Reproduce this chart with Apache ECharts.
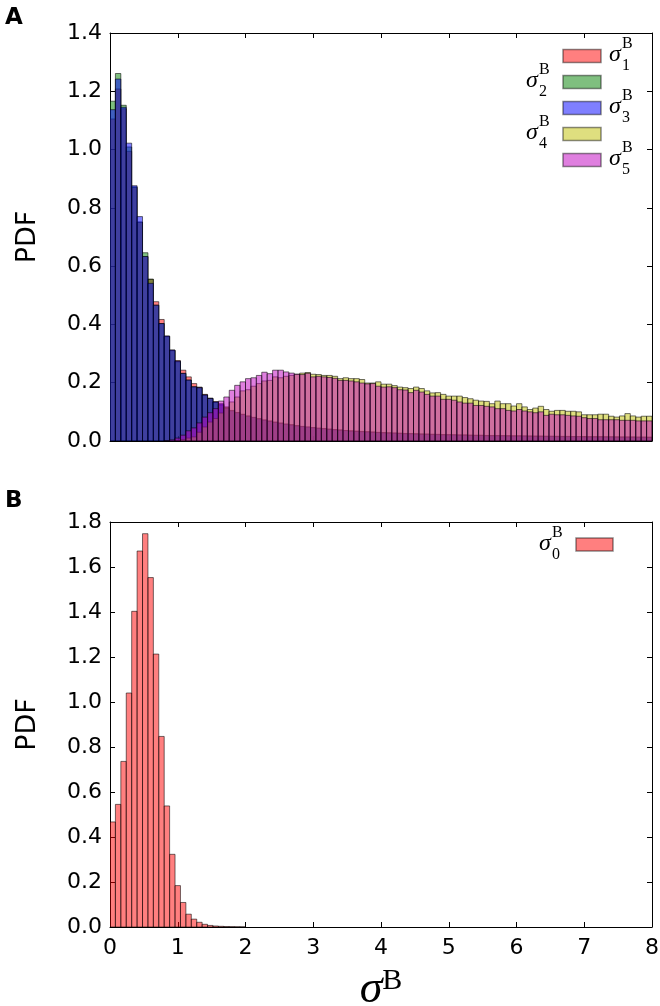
<!DOCTYPE html>
<html>
<head>
<meta charset="utf-8">
<script src="https://cdn.jsdelivr.net/npm/echarts@6/dist/echarts.min.js"></script>
<style>
html,body{margin:0;padding:0;background:#fff;}
#chart{width:660px;height:1006px;}
</style>
</head>
<body>
<div id="chart"></div>
<script>
// ---- data ----
const BIN_WIDTH = 0.08;           // histogram bin width (sigma^B units)
const X_TICKS = [0, 1, 2, 3, 4, 5, 6, 7, 8];

// Panel A: PDFs of sigma_1..sigma_5 (one value per bin, bins start at 0)
const sigmaA1 = [
  1.105, 1.208, 1.140, 0.994, 0.870, 0.751, 0.633, 0.555, 0.478, 0.417,
  0.360, 0.312, 0.276, 0.243, 0.220, 0.197, 0.185, 0.160, 0.147, 0.135,
  0.126, 0.114, 0.105, 0.098, 0.092, 0.086, 0.081, 0.077, 0.072, 0.069,
  0.065, 0.062, 0.058, 0.056, 0.053, 0.050, 0.048, 0.046, 0.044, 0.043,
  0.041, 0.039, 0.038, 0.036, 0.035, 0.034, 0.033, 0.032, 0.031, 0.030,
  0.029, 0.028, 0.027, 0.027, 0.026, 0.025, 0.025, 0.024, 0.024, 0.023,
  0.023, 0.022, 0.022, 0.021, 0.021, 0.021, 0.020, 0.020, 0.020, 0.019,
  0.019, 0.019, 0.018, 0.018, 0.018, 0.018, 0.017, 0.017, 0.017, 0.017,
  0.016, 0.016, 0.016, 0.016, 0.016, 0.015, 0.015, 0.015, 0.015, 0.015,
  0.015, 0.014, 0.014, 0.014, 0.014, 0.014, 0.014, 0.013, 0.013, 0.013
];
const sigmaA2 = [
  1.166, 1.261, 1.152, 1.009, 0.872, 0.751, 0.646, 0.555, 0.466, 0.403,
  0.358, 0.310, 0.272, 0.232, 0.209, 0.186, 0.183, 0.158, 0.146, 0.133,
  0.123, 0.112, 0.103, 0.097, 0.090, 0.085, 0.080, 0.075, 0.071, 0.067,
  0.064, 0.060, 0.057, 0.055, 0.052, 0.049, 0.047, 0.045, 0.043, 0.042,
  0.040, 0.038, 0.037, 0.035, 0.034, 0.033, 0.032, 0.031, 0.030, 0.029,
  0.028, 0.028, 0.027, 0.026, 0.025, 0.025, 0.024, 0.024, 0.023, 0.023,
  0.022, 0.022, 0.021, 0.021, 0.020, 0.020, 0.020, 0.019, 0.019, 0.019,
  0.018, 0.018, 0.018, 0.018, 0.017, 0.017, 0.017, 0.017, 0.016, 0.016,
  0.016, 0.016, 0.016, 0.015, 0.015, 0.015, 0.015, 0.015, 0.014, 0.014,
  0.014, 0.014, 0.014, 0.014, 0.013, 0.013, 0.013, 0.013, 0.013, 0.013
];
const sigmaA3 = [
  1.137, 1.242, 1.145, 1.022, 0.876, 0.770, 0.633, 0.541, 0.466, 0.403,
  0.360, 0.312, 0.274, 0.232, 0.209, 0.186, 0.183, 0.158, 0.146, 0.134,
  0.128, 0.113, 0.104, 0.097, 0.091, 0.085, 0.081, 0.076, 0.072, 0.068,
  0.064, 0.061, 0.058, 0.055, 0.052, 0.050, 0.048, 0.046, 0.044, 0.042,
  0.040, 0.039, 0.037, 0.036, 0.034, 0.033, 0.032, 0.031, 0.030, 0.029,
  0.028, 0.027, 0.027, 0.026, 0.025, 0.025, 0.024, 0.023, 0.023, 0.022,
  0.022, 0.021, 0.021, 0.021, 0.020, 0.020, 0.019, 0.019, 0.019, 0.018,
  0.018, 0.018, 0.018, 0.017, 0.017, 0.017, 0.017, 0.016, 0.016, 0.016,
  0.016, 0.016, 0.015, 0.015, 0.015, 0.015, 0.015, 0.014, 0.014, 0.014,
  0.014, 0.014, 0.014, 0.013, 0.013, 0.013, 0.013, 0.013, 0.013, 0.012
];
const sigmaA4 = [
  0, 0, 0, 0, 0, 0, 0, 0, 0, 0,
  0, 0, 0.002, 0.005, 0.010, 0.014, 0.030, 0.048, 0.065, 0.077,
  0.096, 0.117, 0.134, 0.151, 0.172, 0.176, 0.188, 0.197, 0.206, 0.208,
  0.220, 0.217, 0.222, 0.225, 0.229, 0.233, 0.235, 0.229, 0.228, 0.225,
  0.225, 0.222, 0.214, 0.217, 0.214, 0.214, 0.211, 0.199, 0.199, 0.203,
  0.195, 0.195, 0.190, 0.185, 0.183, 0.180, 0.185, 0.180, 0.172, 0.165,
  0.166, 0.160, 0.154, 0.154, 0.154, 0.149, 0.145, 0.140, 0.137, 0.136,
  0.128, 0.137, 0.128, 0.128, 0.120, 0.128, 0.117, 0.108, 0.113, 0.119,
  0.108, 0.102, 0.105, 0.105, 0.102, 0.102, 0.100, 0.090, 0.090, 0.090,
  0.092, 0.092, 0.085, 0.082, 0.086, 0.094, 0.086, 0.082, 0.085, 0.085
];
const sigmaA5 = [
  0, 0, 0, 0, 0, 0, 0, 0, 0, 0,
  0.001, 0.004, 0.010, 0.020, 0.035, 0.045, 0.062, 0.082, 0.097, 0.111,
  0.137, 0.151, 0.174, 0.191, 0.203, 0.214, 0.217, 0.225, 0.236, 0.231,
  0.243, 0.243, 0.237, 0.233, 0.229, 0.228, 0.232, 0.220, 0.222, 0.220,
  0.218, 0.215, 0.208, 0.208, 0.206, 0.203, 0.199, 0.196, 0.197, 0.188,
  0.185, 0.186, 0.183, 0.176, 0.175, 0.166, 0.174, 0.168, 0.160, 0.154,
  0.154, 0.143, 0.143, 0.140, 0.134, 0.130, 0.130, 0.122, 0.122, 0.119,
  0.117, 0.111, 0.111, 0.105, 0.103, 0.108, 0.103, 0.100, 0.097, 0.100,
  0.088, 0.092, 0.090, 0.090, 0.088, 0.086, 0.085, 0.080, 0.077, 0.077,
  0.073, 0.073, 0.073, 0.073, 0.071, 0.071, 0.071, 0.069, 0.069, 0.069
];

// Panel B: PDF of sigma_0
const sigmaB0 = [
  0.467, 0.545, 0.736, 1.040, 1.403, 1.671, 1.748, 1.553, 1.213, 0.847,
  0.538, 0.323, 0.184, 0.109, 0.057, 0.035, 0.021, 0.012, 0.007, 0.0045,
  0.003, 0.002, 0.0015, 0.001, 0.0007
];

const seriesA = [
  { sub: '1', values: sigmaA1, color: 'rgba(255,0,0,0.5)',   side: 'right' },
  { sub: '2', values: sigmaA2, color: 'rgba(0,128,0,0.5)',   side: 'left'  },
  { sub: '3', values: sigmaA3, color: 'rgba(0,0,255,0.5)',   side: 'right' },
  { sub: '4', values: sigmaA4, color: 'rgba(191,191,0,0.5)', side: 'left'  },
  { sub: '5', values: sigmaA5, color: 'rgba(191,0,191,0.5)', side: 'right' }
];
const seriesB = [
  { sub: '0', values: sigmaB0, color: 'rgba(255,0,0,0.5)', side: 'left' }
];

// ---- chart ----
const EDGE = 'rgba(0,0,0,0.55)';
const FONT = 'DejaVu Sans';
const SERIF = 'Liberation Serif';

function toPairs(values) {
  return values.map((v, k) => [k * BIN_WIDTH, v]);
}
function histSeries(def, gridIdx) {
  return {
    type: 'custom',
    name: 'σ' + def.sub,
    xAxisIndex: gridIdx * 2,
    yAxisIndex: gridIdx * 2,
    clip: true,
    data: toPairs(def.values),
    encode: { x: 0, y: 1 },
    renderItem: function (params, api) {
      const x0 = api.value(0), h = api.value(1);
      if (!(h > 0)) return null;
      const p0 = api.coord([x0, 0]);
      const p1 = api.coord([x0 + BIN_WIDTH, h]);
      return {
        type: 'rect',
        shape: { x: p0[0], y: p1[1], width: p1[0] - p0[0], height: p0[1] - p1[1] },
        style: { fill: def.color, stroke: EDGE, lineWidth: 1 }
      };
    }
  };
}

function axisX(gridIdx, pos, labels) {
  return {
    type: 'value', gridIndex: gridIdx, position: pos,
    min: X_TICKS[0], max: X_TICKS[X_TICKS.length - 1], interval: 1,
    axisLine: { show: true, onZero: false, lineStyle: { color: '#000', width: 1 } },
    axisTick: { show: true, inside: true, length: 5, lineStyle: { color: '#000' } },
    splitLine: { show: false },
    axisLabel: labels ? { show: true, fontFamily: FONT, fontSize: 22, color: '#000', margin: 10 } : { show: false }
  };
}
function axisY(gridIdx, pos, max, labels) {
  const a = {
    type: 'value', gridIndex: gridIdx, position: pos,
    min: 0, max: max, interval: 0.2,
    axisLine: { show: true, onZero: false, lineStyle: { color: '#000', width: 1 } },
    axisTick: { show: true, inside: true, length: 5, lineStyle: { color: '#000' } },
    splitLine: { show: false },
    axisLabel: labels ? { show: true, fontFamily: FONT, fontSize: 22, color: '#000', margin: 8,
      formatter: v => v.toFixed(1) } : { show: false }
  };
  if (labels) {
    a.name = 'PDF';
    a.nameLocation = 'middle';
    a.nameGap = 69;
    a.nameTextStyle = { fontFamily: FONT, fontSize: 27, color: '#000' };
  }
  return a;
}

function legendGraphics(defs, swX, swW, firstY, rowGap) {
  const out = [];
  defs.forEach((d, i) => {
    const cy = firstY + i * rowGap;
    out.push({
      type: 'rect', shape: { x: swX, y: cy - 6.5, width: swW, height: 13 },
      style: { fill: d.color, stroke: 'rgba(0,0,0,0.45)', lineWidth: 1.5 }, z: 100
    });
    const sx = d.side === 'right' ? swX + swW + 8 : swX - 37;
    out.push({ type: 'text', z: 100, style: { text: 'σ', x: sx, y: cy - 1,
      font: 'italic 24px "' + SERIF + '"', fill: '#000', textVerticalAlign: 'middle', verticalAlign: 'middle' } });
    out.push({ type: 'text', z: 100, style: { text: 'B', x: sx + 13, y: cy - 12,
      font: '16px "' + SERIF + '"', fill: '#000', textVerticalAlign: 'middle', verticalAlign: 'middle' } });
    out.push({ type: 'text', z: 100, style: { text: d.sub, x: sx + 13, y: cy + 10,
      font: '16px "' + SERIF + '"', fill: '#000', textVerticalAlign: 'middle', verticalAlign: 'middle' } });
  });
  return out;
}

const xB = axisX(1, 'bottom', true);
xB.name = '{s|σ}{b|B}';
xB.nameLocation = 'middle';
xB.nameGap = 39;
xB.nameTextStyle = {
  rich: {
    s: { fontFamily: SERIF, fontStyle: 'italic', fontSize: 46, color: '#000', verticalAlign: 'bottom' },
    b: { fontFamily: SERIF, fontSize: 30, color: '#000', verticalAlign: 'bottom', padding: [0, 0, 17, 0] }
  }
};

const option = {
  animation: false,
  backgroundColor: '#fff',
  title: [
    { text: 'A', left: 0, top: 2, textStyle: { fontFamily: FONT, fontWeight: 'bold', fontSize: 23, color: '#000' } },
    { text: 'B', left: 0, top: 485, textStyle: { fontFamily: FONT, fontWeight: 'bold', fontSize: 23, color: '#000' } }
  ],
  grid: [
    { left: 110, top: 33, width: 542, height: 408, containLabel: false, outerBoundsMode: 'none' },
    { left: 110, top: 522, width: 542, height: 405, containLabel: false, outerBoundsMode: 'none' }
  ],
  xAxis: [axisX(0, 'bottom', false), axisX(0, 'top', false), xB, axisX(1, 'top', false)],
  yAxis: [axisY(0, 'left', 1.4, true), axisY(0, 'right', 1.4, false), axisY(1, 'left', 1.8, true), axisY(1, 'right', 1.8, false)],
  series: seriesA.map(d => histSeries(d, 0)).concat(seriesB.map(d => histSeries(d, 1))),
  graphic: legendGraphics(seriesA, 563, 38, 56, 26).concat(legendGraphics(seriesB, 576, 37, 544.5, 26))
};

const chart = echarts.init(document.getElementById('chart'), null, { renderer: 'canvas' });
chart.setOption(option);
</script>
</body>
</html>
